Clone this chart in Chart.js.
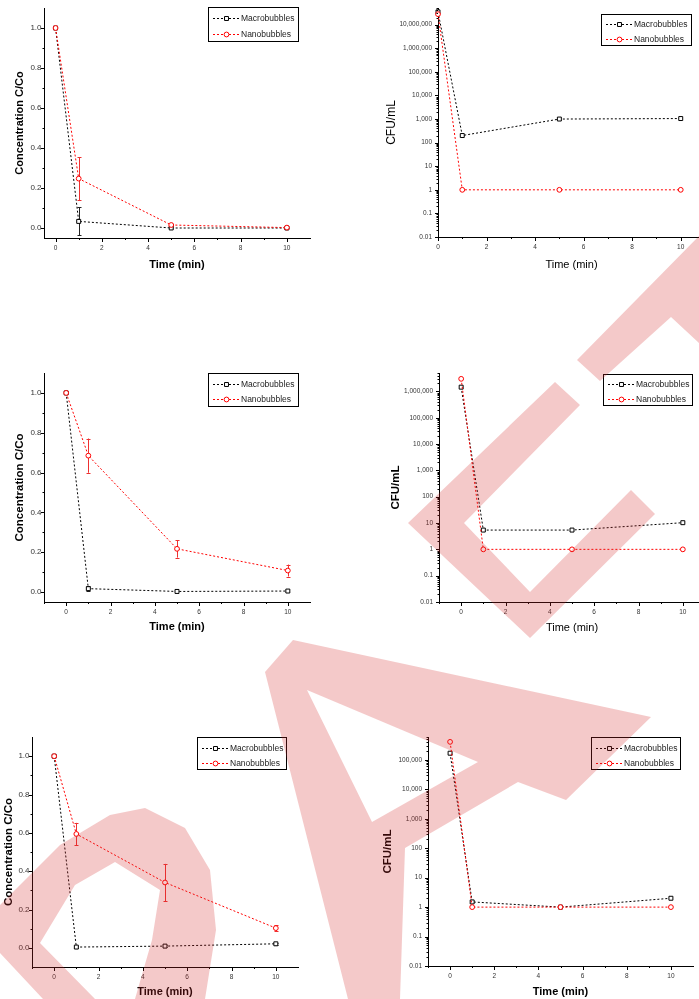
<!DOCTYPE html>
<html>
<head>
<meta charset="utf-8">
<script src="https://cdn.jsdelivr.net/npm/chart.js@4.4.0/dist/chart.umd.min.js"></script>
<style>
  html, body { margin: 0; padding: 0; background: #fff; overflow: hidden; width: 699px; height: 999px; }
  .panel { position: absolute; }
  #mark { position: absolute; left: 0; top: 0; z-index: 10; pointer-events: none; }
</style>
</head>
<body>
<div id="wrap"></div>
<svg id="mark" width="699" height="999">
  <g fill="rgba(210,40,40,0.25)" fill-rule="evenodd">
    <path d="M699,236 L577,360 L600,381 L671,317 L699,343 Z"/>
    <path d="M555,382 L408,523 L530,638 L655,514 L631,490 L530,592 L464,523 L580,405 Z"/>
    <path d="M265,672 L293,640 L651,717 L566,800 L518,782 L405,848 L400,999 L348,999 Z M307,690 L372,822 L478,762 Z"/>
    <path d="M0,905 L60,845 L110,815 L145,808 L185,828 L210,870 L216,930 L205,999 L135,999 L152,940 L160,890 L115,862 L75,885 L40,943 L95,999 L43,999 L0,953 Z"/>
  </g>
</svg>
<script>
// ---- data ----
const timeMin = [0, 1, 5, 10];

// row 1
const conc1Macro = [1.0, 0.033, 0.0, 0.0];
const conc1MacroErr = [0, 0.07, 0, 0];
const conc1Nano = [1.0, 0.247, 0.015, 0.002];
const conc1NanoErr = [0, 0.108, 0.005, 0.003];
const cfu1Macro = [3.5e7, 200, 1000, 1050];
const cfu1Nano = [2.8e7, 1, 1, 1];

// row 2
const conc2Macro = [1.0, 0.017, 0.003, 0.005];
const conc2MacroErr = [0, 0.012, 0, 0];
const conc2Nano = [1.0, 0.685, 0.217, 0.108];
const conc2NanoErr = [0, 0.086, 0.044, 0.03];
const cfu2Macro = [1.45e6, 5.4, 5.4, 10.3];
const cfu2Nano = [3.0e6, 1, 1, 1];

// row 3
const conc3Macro = [1.0, 0.004, 0.009, 0.021];
const conc3MacroErr = [0, 0.004, 0.005, 0.006];
const conc3Nano = [1.0, 0.594, 0.341, 0.103];
const conc3NanoErr = [0, 0.058, 0.097, 0.015];
const cfu3Macro = [1.69e5, 1.5, 1.0, 2.0];
const cfu3Nano = [4.1e5, 1, 1, 1];

const seriesNames = ['Macrobubbles', 'Nanobubbles'];
const xTitleText = 'Time (min)';
const concTitle = 'Concentration C/Co';
const cfuTitle = 'CFU/mL';

const FONT = "'Liberation Sans', Arial, Helvetica, sans-serif";
const PAD_TOP = 12;

// tick helpers
function linTicks(min, max, step, keepMin) {
    const out = [];
    const k0 = Math.ceil(min / step - 1e-9), k1 = Math.floor(max / step + 1e-9);
    for (let k = k0; k <= k1; k++) {
        const v = Math.round(k * step * 1000) / 1000;
        const okMin = keepMin ? v >= min - 1e-9 : v > min + 1e-9;
        if (okMin && v < max - 1e-9) out.push(v);
    }
    return out;
}
function logTicks(min, max) {
    const out = [];
    for (let e = -2; e <= 8; e++) {
        for (let m = 1; m <= 9; m++) {
            const v = +(m * Math.pow(10, e)).toPrecision(3);
            if (v >= min * 0.999 && v <= max * 1.0001) out.push(v);
        }
    }
    return out;
}
function isPow10(v) {
    const l = Math.log10(v);
    return Math.abs(l - Math.round(l)) < 1e-6;
}
function fmtLog(v) {
    if (v >= 1) return Math.round(v).toLocaleString('en-US');
    return String(+v.toPrecision(1));
}

// axis ticks, error bars and boxed legend, Origin style
const originStyle = {
    id: 'originStyle',
    beforeDatasetsDraw(chart) {
        const ctx = chart.ctx;
        const xs = chart.scales.x, ys = chart.scales.y;
        chart.data.datasets.forEach(ds => {
            if (!ds.err) return;
            ctx.save();
            ctx.strokeStyle = ds.errColor;
            ctx.lineWidth = 1;
            ds.data.forEach((pt, j) => {
                const e = ds.err[j];
                if (!e) return;
                const x = Math.round(xs.getPixelForValue(pt.x)) + 0.5;
                const y1 = ys.getPixelForValue(pt.y + e);
                const y2 = ys.getPixelForValue(pt.y - e);
                ctx.beginPath();
                ctx.moveTo(x, y1); ctx.lineTo(x, y2);
                ctx.moveTo(x - 2, Math.round(y1) + 0.5); ctx.lineTo(x + 2, Math.round(y1) + 0.5);
                ctx.moveTo(x - 2, Math.round(y2) + 0.5); ctx.lineTo(x + 2, Math.round(y2) + 0.5);
                ctx.stroke();
            });
            ctx.restore();
        });
    },
    afterDraw(chart, args, opts) {
        const ctx = chart.ctx;
        const area = chart.chartArea;
        const xs = chart.scales.x, ys = chart.scales.y;
        ctx.save();
        ctx.strokeStyle = '#000';
        ctx.lineWidth = 1;
        ctx.beginPath();
        xs.ticks.forEach(t => {
            const p = Math.round(xs.getPixelForValue(t.value)) + 0.5;
            const len = t.label !== '' ? 4 : 2;
            ctx.moveTo(p, area.bottom); ctx.lineTo(p, area.bottom + len);
        });
        ys.ticks.forEach(t => {
            const p = Math.round(ys.getPixelForValue(t.value)) + 0.5;
            const len = t.label !== '' ? 3 : 1.5;
            ctx.moveTo(area.left, p); ctx.lineTo(area.left - len, p);
        });
        ctx.stroke();

        // legend box
        const L = opts.box;
        if (L) {
            ctx.fillStyle = '#fff';
            ctx.fillRect(L.x, L.y, L.w, L.h);
            ctx.strokeRect(Math.round(L.x) + 0.5, Math.round(L.y) + 0.5, Math.round(L.w), Math.round(L.h));
            const rows = [0.33, 0.8];
            const entries = chart.data.datasets.slice().sort((a, b) => seriesNames.indexOf(a.label) - seriesNames.indexOf(b.label));
            entries.forEach((ds, i) => {
                const ry = Math.round(L.y + L.h * rows[i]) + 0.5;
                ctx.strokeStyle = ds.borderColor;
                ctx.setLineDash([2, 2]);
                ctx.beginPath();
                ctx.moveTo(L.x + 5, ry); ctx.lineTo(L.x + 32, ry);
                ctx.stroke();
                ctx.setLineDash([]);
                ctx.fillStyle = '#fff';
                Chart.helpers.drawPoint(ctx, {pointStyle: ds.pointStyle, radius: ds.pointRadius, borderWidth: 1, rotation: 0}, L.x + 18.5, ry);
                ctx.fillStyle = '#222';
                ctx.font = '8.5px ' + FONT;
                ctx.textBaseline = 'middle';
                ctx.textAlign = 'left';
                ctx.fillText(ds.label, L.x + 33, ry);
            });
        }
        ctx.restore();
    }
};

function pts(vals) {
    return timeMin.map((t, i) => ({x: t, y: vals[i]}));
}

function makeSets(macro, macroErr, nano, nanoErr) {
    return [
        {
            label: seriesNames[0], data: pts(macro), err: macroErr, errColor: '#222',
            borderColor: '#000', backgroundColor: '#fff', borderWidth: 1, borderDash: [2, 2],
            pointStyle: 'rect', pointRadius: 2.8, pointBorderWidth: 1,
            pointBackgroundColor: '#fff', pointBorderColor: '#000', order: 1, clip: false
        },
        {
            label: seriesNames[1], data: pts(nano), err: nanoErr, errColor: '#ee3030',
            borderColor: '#ff0000', backgroundColor: '#fff', borderWidth: 1, borderDash: [2, 2],
            pointStyle: 'circle', pointRadius: 2.4, pointBorderWidth: 1,
            pointBackgroundColor: '#fff', pointBorderColor: '#ff0000', order: 0, clip: false
        }
    ];
}

function buildPanel(p) {
    const yLh = p.yTitleSize * 1.2, xLh = p.xTitleSize * 1.2;
    const left = Math.round(p.yTitleX - yLh / 2 - 1);
    const top = p.plot.t - PAD_TOP;
    const bottom = Math.round(p.xTitleY + xLh / 2 + 1);
    const right = p.plot.r;
    const W = right - left, H = bottom - top;
    const yW = p.plot.l - left, xH = bottom - p.plot.b;

    const div = document.createElement('div');
    div.className = 'panel';
    div.style.left = left + 'px';
    div.style.top = top + 'px';
    const canvas = document.createElement('canvas');
    canvas.width = W; canvas.height = H;
    canvas.style.width = W + 'px'; canvas.style.height = H + 'px';
    div.appendChild(canvas);
    document.getElementById('wrap').appendChild(div);

    const isLog = p.yType === 'logarithmic';
    const xTickFont = {family: FONT, size: 6.5};
    const yTickFont = {family: FONT, size: isLog ? 6.5 : 8};

    new Chart(canvas.getContext('2d'), {
        type: 'line',
        data: {datasets: p.sets},
        plugins: [originStyle],
        options: {
            responsive: false,
            devicePixelRatio: 1,
            animation: false,
            layout: {padding: {top: PAD_TOP, left: 0, right: 0, bottom: 0}},
            plugins: {
                legend: {display: false},
                tooltip: {enabled: false},
                originStyle: {box: {x: p.box[0] - left, y: p.box[1] - top, w: p.box[2], h: p.box[3]}}
            },
            scales: {
                x: {
                    type: 'linear', position: 'bottom', min: p.xMin, max: p.xMax,
                    afterBuildTicks: s => { s.ticks = linTicks(p.xMin, p.xMax, 1, true).map(v => ({value: v})); },
                    afterFit: s => { s.height = xH; s.paddingLeft = 0; s.paddingRight = 0; s.paddingTop = 0; s.paddingBottom = 0; },
                    grid: {display: false, drawTicks: false},
                    border: {display: true, color: '#000', width: 1},
                    ticks: {
                        autoSkip: false, maxRotation: 0, padding: 6, color: '#333', font: xTickFont,
                        callback: v => (Math.abs(v % 2) < 1e-9 ? String(v) : '')
                    },
                    title: {
                        display: true, text: xTitleText, color: '#000',
                        font: {family: FONT, size: p.xTitleSize, weight: p.xBold ? 'bold' : 'normal'},
                        padding: {top: 0, bottom: 1}
                    }
                },
                y: {
                    type: p.yType, position: 'left', min: p.yMin, max: p.yMax,
                    afterBuildTicks: s => {
                        const vals = isLog ? logTicks(p.yMin, p.yMax) : linTicks(p.yMin, p.yMax, 0.1, false);
                        s.ticks = vals.map(v => ({value: v}));
                    },
                    afterFit: s => { s.width = yW; s.paddingLeft = 0; s.paddingRight = 0; s.paddingTop = 0; s.paddingBottom = 0; },
                    grid: {display: false, drawTicks: false},
                    border: {display: true, color: '#000', width: 1},
                    ticks: {
                        autoSkip: false, padding: p.yPad, color: '#333', font: yTickFont,
                        callback: v => {
                            if (isLog) return isPow10(v) ? fmtLog(v) : '';
                            return Math.abs(Math.round(v * 10)) % 2 === 0 ? v.toFixed(1) : '';
                        }
                    },
                    title: {
                        display: true, text: p.yTitle, color: '#000',
                        font: {family: FONT, size: p.yTitleSize, weight: p.yBold ? 'bold' : 'normal'},
                        padding: {top: 1, bottom: 0}
                    }
                }
            }
        }
    });
}

const panels = [
    {plot: {l: 44, t: 8, r: 315, b: 238}, xMin: -0.5, xMax: 11, yType: 'linear', yMin: -0.05, yMax: 1.1,
     yTitle: concTitle, yTitleSize: 11, yBold: true, yTitleX: 20, xTitleSize: 11, xBold: true, xTitleY: 265, yPad: 2.5,
     box: [208, 7, 90, 34], sets: makeSets(conc1Macro, conc1MacroErr, conc1Nano, conc1NanoErr)},
    {plot: {l: 438, t: 8, r: 710, b: 237}, xMin: 0, xMax: 11, yType: 'logarithmic', yMin: 0.01, yMax: 5.1e7,
     yTitle: cfuTitle, yTitleSize: 12, yBold: false, yTitleX: 391, xTitleSize: 11, xBold: false, xTitleY: 265, yPad: 6,
     box: [601, 14, 90, 31], sets: makeSets(cfu1Macro, null, cfu1Nano, null)},
    {plot: {l: 44, t: 373, r: 315, b: 602}, xMin: -1, xMax: 11, yType: 'linear', yMin: -0.05, yMax: 1.1,
     yTitle: concTitle, yTitleSize: 11.5, yBold: true, yTitleX: 20, xTitleSize: 11, xBold: true, xTitleY: 627, yPad: 2.5,
     box: [208, 373, 90, 33], sets: makeSets(conc2Macro, conc2MacroErr, conc2Nano, conc2NanoErr)},
    {plot: {l: 439, t: 373, r: 710, b: 602}, xMin: -1, xMax: 11, yType: 'logarithmic', yMin: 0.01, yMax: 5e6,
     yTitle: cfuTitle, yTitleSize: 11.5, yBold: true, yTitleX: 396, xTitleSize: 11, xBold: false, xTitleY: 628, yPad: 6,
     box: [603, 374, 89, 31], sets: makeSets(cfu2Macro, null, cfu2Nano, null)},
    {plot: {l: 32, t: 737, r: 303, b: 967}, xMin: -1, xMax: 11, yType: 'linear', yMin: -0.1, yMax: 1.1,
     yTitle: concTitle, yTitleSize: 11.5, yBold: true, yTitleX: 9, xTitleSize: 11, xBold: true, xTitleY: 992.5, yPad: 2.5,
     box: [197, 737, 89, 32], sets: makeSets(conc3Macro, conc3MacroErr, conc3Nano, conc3NanoErr)},
    {plot: {l: 428, t: 737, r: 698, b: 966}, xMin: -1, xMax: 11, yType: 'logarithmic', yMin: 0.01, yMax: 6e5,
     yTitle: cfuTitle, yTitleSize: 11.5, yBold: true, yTitleX: 388, xTitleSize: 11, xBold: true, xTitleY: 992.5, yPad: 6,
     box: [591, 737, 89, 32], sets: makeSets(cfu3Macro, null, cfu3Nano, null)}
];

panels.forEach(buildPanel);
</script>
</body>
</html>
